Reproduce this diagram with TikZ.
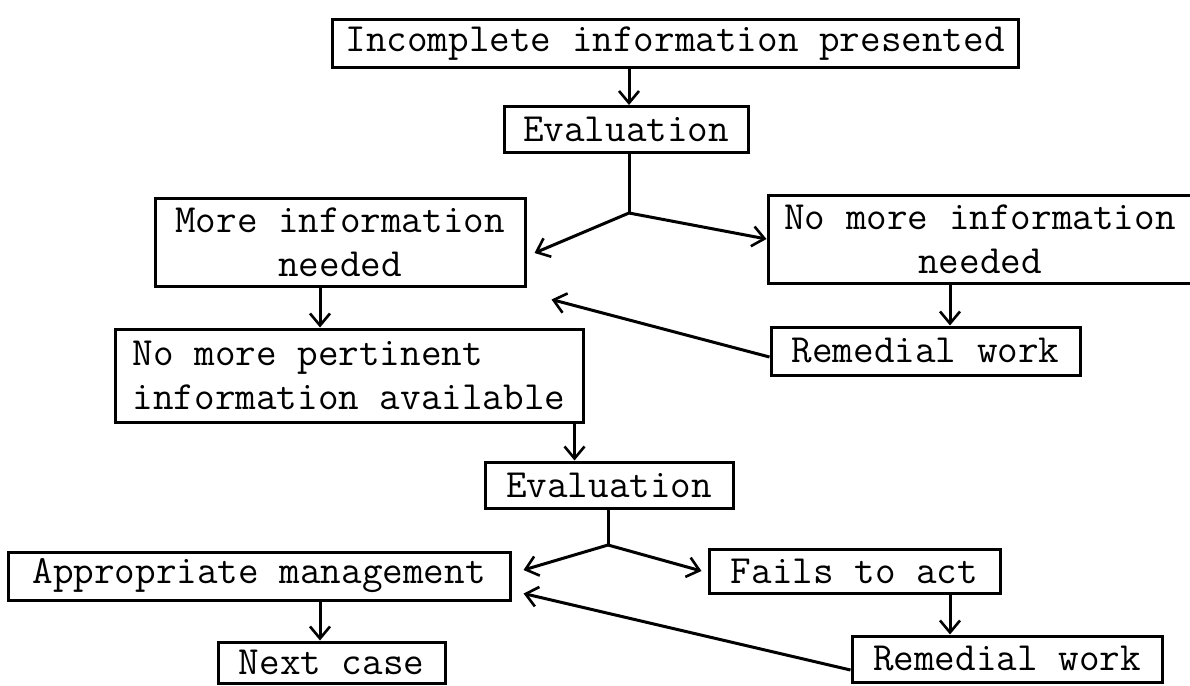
\documentclass[tikz,border=0pt]{standalone}
\usetikzlibrary{arrows.meta,calc}
\begin{document}
\begin{tikzpicture}[x=1pt,y=-1pt,
  box/.style={draw, line width=3pt, inner sep=0pt,
    font=\ttfamily\fontsize{40}{44}\selectfont, align=center},
  arr/.style={line width=3pt, -{Straight Barb[length=12pt,width=20pt,line width=2.6pt]}},
  ln/.style={line width=3pt}]
\useasboundingbox (0,0) rectangle (1190,685);
% boxes
\node[box, minimum width=686pt, minimum height=47pt] (b1) at (675,43.5) {Incomplete information presented};
\node[box, minimum width=244pt, minimum height=46pt] (e1) at (626,129.5) {Evaluation};
\node[box, minimum width=370pt, minimum height=88pt] (more) at (340,242) {More information\\needed};
\node[box, minimum width=424pt, minimum height=88pt] (nomore) at (980,239) {No more information\\needed};
\node[box, minimum width=309pt, minimum height=48pt] (rem1) at (925.5,351) {Remedial work};
\node[box, minimum width=468pt, minimum height=93pt, align=left] (nmp) at (349,375.5) {No more pertinent\\information available};
\node[box, minimum width=248pt, minimum height=46pt] (e2) at (609,485) {Evaluation};
\node[box, minimum width=502pt, minimum height=48pt] (app) at (259,576) {Appropriate management};
\node[box, minimum width=227pt, minimum height=41pt] (next) at (331.5,662.5) {Next case};
\node[box, minimum width=291pt, minimum height=44pt] (fails) at (854.5,571) {Fails to act};
\node[box, minimum width=310pt, minimum height=46pt] (rem2) at (1007,659) {Remedial work};
% junctions
\coordinate (j1) at (629,213);
\coordinate (j2) at (608,545);
% connectors
\draw[arr] ([xshift=3pt]e1.north |- b1.south) -- ([xshift=3pt]e1.north);
\draw[ln] ([xshift=3pt]e1.south) -- (j1);
\draw[arr] (j1) -- ([xshift=8pt,yshift=-11pt]more.east);
\draw[arr] (j1) -- (nomore.west);
\draw[arr] ([xshift=-20pt]more.south) -- ([xshift=-20pt]more.south |- nmp.north);
\draw[arr] ([xshift=-30pt]nomore.south) -- ([xshift=-30pt]nomore.south |- rem1.north);
\draw[arr] ([yshift=-6pt]rem1.west) -- ([xshift=25pt,yshift=-12pt]more.south east);
\draw[arr] ([xshift=-10pt]nmp.south east) -- ([xshift=-10pt]nmp.south east |- e2.north);
\draw[ln] ([xshift=-1pt]e2.south) -- (j2);
\draw[arr] (j2) -- ([xshift=12pt,yshift=6pt]app.east);
\draw[arr] (j2) -- ([xshift=-6pt]fails.west);
\draw[arr] ([xshift=61pt]app.south) -- ([xshift=61pt]app.south |- next.north);
\draw[arr] ([xshift=95.5pt]fails.south) -- ([xshift=95.5pt]fails.south |- rem2.north);
\draw[arr] ([yshift=-11pt]rem2.west) -- ([xshift=12pt,yshift=8pt]app.south east);
\end{tikzpicture}
\end{document}
